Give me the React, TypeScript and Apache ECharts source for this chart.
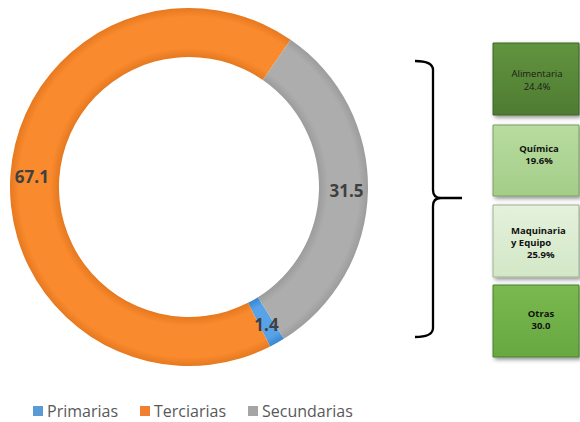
import React, { useEffect, useRef } from "react";
import * as echarts from "echarts";

const categories = ["Primarias", "Terciarias", "Secundarias"];
const values = [1.4, 67.1, 31.5];
const boxNames = ["Alimentaria", "Química", "Maquinaria y Equipo", "Otras"];
const boxValues = ["24.4%", "19.6%", "25.9%", "30.0"];

const CX = 189;
const CY = 187;
const R_OUT = 179;
const R_IN = 130;

function ringGrad(edge: string, mid: string) {
  const a = R_IN / R_OUT;
  return new echarts.graphic.RadialGradient(CX, CY, R_OUT, [
    { offset: a, color: edge },
    { offset: a + 0.05, color: mid },
    { offset: 0.95, color: mid },
    { offset: 1, color: edge },
  ], true);
}

const sliceColors = [
  ringGrad("#3a86cf", "#58a3e8"),
  ringGrad("#e6781f", "#f98a2e"),
  ringGrad("#9c9c9c", "#adadad"),
];
const legendColors = ["#5b9bd5", "#f08030", "#a5a5a5"];

const bracePath =
  "M415 61 Q433 61 433 70 L433 190 Q433 198 441 198 L462 198 M441 198 Q433 198 433 206 L433 328 Q433 337 415 337";

export default function App() {
  const ref = useRef<HTMLDivElement>(null);
  useEffect(() => {
    if (!ref.current) return;
    try {
      echarts.graphic.registerShape("brace", echarts.graphic.extendPath(bracePath, {}) as any);
    } catch (e) {}
    const chart = echarts.init(ref.current, null, { renderer: "svg" });

    const boxes = [
      { y: 43, h: 72, fill: ["#62943f", "#4e7c31"], border: "#3f6428", color: "#1a1a1a", weight: "normal" },
      { y: 125, h: 71, fill: ["#b8dc9f", "#a4cd88"], border: "#7e9c6a", color: "#111", weight: "bold" },
      { y: 205, h: 72, fill: ["#e4f1dc", "#d3e7c6"], border: "#9fb094", color: "#111", weight: "bold" },
      { y: 285, h: 72, fill: ["#79b94f", "#68a841"], border: "#4d7e30", color: "#111", weight: "bold" },
    ];
    const graphics: any[] = [];
    boxes.forEach((b) => {
      graphics.push({
        type: "rect",
        shape: { x: 493, y: b.y, width: 86, height: b.h },
        style: {
          fill: new echarts.graphic.LinearGradient(0, 0, 0, 1, [
            { offset: 0, color: b.fill[0] },
            { offset: 1, color: b.fill[1] },
          ]),
          stroke: b.border,
          lineWidth: 1,
          shadowBlur: 4,
          shadowOffsetX: 2,
          shadowOffsetY: 2,
          shadowColor: "rgba(0,0,0,0.45)",
        },
      });
    });
    const txt = (text: string, x: number, y: number, i: number, align = "center") => ({
      type: "text",
      x,
      y,
      style: {
        text,
        fill: boxes[i].color,
        font: `${boxes[i].weight} 9.5px "Open Sans", sans-serif`,
        textAlign: align,
        textVerticalAlign: "middle",
      },
    });
    graphics.push(txt(boxNames[0], 537, 73, 0));
    graphics.push(txt(boxValues[0], 537, 86, 0));
    graphics.push(txt(boxNames[1], 539, 148, 1));
    graphics.push(txt(boxValues[1], 539, 160, 1));
    const parts = boxNames[2].split(" y ");
    graphics.push(txt(parts[0], 511, 230, 2, "left"));
    graphics.push(txt("y " + parts[1], 511, 242, 2, "left"));
    graphics.push(txt(boxValues[2], 527, 254, 2, "left"));
    graphics.push(txt(boxNames[3], 541, 313, 3));
    graphics.push(txt(boxValues[3], 541, 325, 3));
    graphics.push({
      type: "brace",
      x: 0,
      y: 0,
      style: { stroke: "#000", fill: "none", lineWidth: 2.3 },
    });

    chart.setOption({
      animation: false,
      backgroundColor: "#fff",
      legend: {
        left: 28,
        top: 397,
        padding: 5,
        icon: "rect",
        itemWidth: 10,
        itemHeight: 10,
        itemGap: 22,
        textStyle: { fontSize: 16, lineHeight: 18, color: "#595959", fontFamily: "Open Sans", padding: [0, 0, 0, -1] },
        data: categories.map((c, i) => ({ name: c, itemStyle: { color: legendColors[i] } })),
      },
      series: [
        {
          type: "pie",
          center: [CX, CY],
          radius: [R_IN, R_OUT],
          startAngle: 302,
          clockwise: true,
          avoidLabelOverlap: false,
          label: {
            show: true,
            position: "inside",
            formatter: (p: any) => p.value.toFixed(1),
            fontSize: 17,
            fontWeight: "bold",
            fontFamily: "Open Sans",
            color: "#404040",
          },
          labelLine: { show: false },
          itemStyle: { borderWidth: 0 },
          emphasis: { disabled: true },
          data: categories.map((c, i) => ({
            name: c,
            value: values[i],
            itemStyle: { color: sliceColors[i] },
          })),
        },
      ],
      graphic: graphics,
    });
    return () => chart.dispose();
  }, []);
  return (
    <div
      ref={ref}
      style={{ position: "fixed", left: 0, top: 0, width: 580, height: 422 }}
    />
  );
}
